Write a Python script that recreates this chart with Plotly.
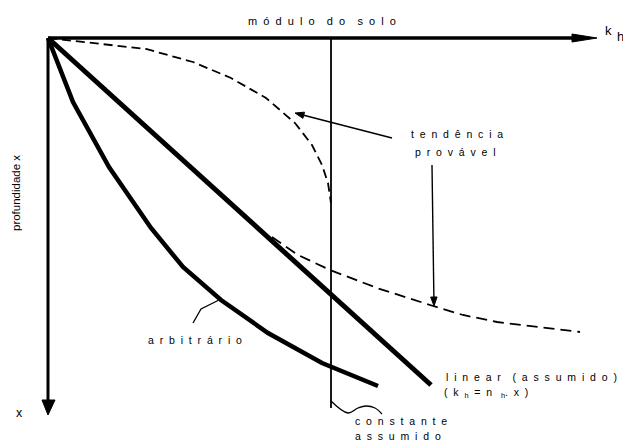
import math
import plotly.graph_objects as go

# ---- data (diagram coordinates, in drawing units: x to the right, depth downwards) ----
kh_axis_x = [48, 574]
kh_axis_y = [38, 38]
kh_head_x = [572, 597, 572, 572]
kh_head_y = [34, 38, 42, 34]
depth_axis_x = [48, 48]
depth_axis_y = [38, 402]
depth_head_x = [42, 48, 55, 42]
depth_head_y = [400, 415, 400, 400]

constant_x = [331, 331]
constant_y = [38, 408]

linear_x = [48, 431]
linear_y = [38, 385]

arbitrary_x = [48, 73, 109, 151, 183, 221, 268, 322, 378]
arbitrary_y = [38, 102, 167, 228, 267, 300, 333, 363, 386]

trend_upper_x = [48, 146, 193, 231, 266, 295, 312, 322, 328, 331]
trend_upper_y = [38, 49, 62, 78, 98, 123, 145, 165, 183, 203]
trend_lower_x = [272, 298, 330, 377, 430, 463, 497, 530, 580]
trend_lower_y = [237, 255, 270, 288, 305, 315, 322, 326, 332]

arb_pointer_x = [193, 201, 219]
arb_pointer_y = [323, 309, 300]
const_squiggle_x = [331, 348, 358, 366, 375, 382]
const_squiggle_y = [401, 413, 408, 406, 408, 414]

# pointer arrows (tail -> head)
trend_arrow1_x = [392, 295]
trend_arrow1_y = [138, 113]
trend_arrow2_x = [432, 434]
trend_arrow2_y = [165, 306]

labels_spaced = ["módulo do solo", "tendência", "provável", "arbitrário",
                 "linear (assumido)", "constante", "assumido"]

NB = "\u00a0"
OFF = 8  # page body margin of the html page


def spaced(s, gap=2, word_gap=4):
    words = s.split(" ")
    return (NB * word_gap).join((NB * gap).join(list(w)) for w in words)


fig = go.Figure()
black = "black"


def line(x, y, width, dash=None, shape="linear"):
    fig.add_trace(go.Scatter(x=x, y=y, mode="lines",
                             line=dict(color=black, width=width, dash=dash, shape=shape),
                             hoverinfo="skip", showlegend=False))


def poly(x, y):
    fig.add_trace(go.Scatter(x=x, y=y, mode="lines", fill="toself", fillcolor=black,
                             line=dict(color=black, width=1),
                             hoverinfo="skip", showlegend=False))


def arrow(xs, ys, width=1.4, length=9, half=3.2):
    x0, x1 = xs
    y0, y1 = ys
    d = math.hypot(x1 - x0, y1 - y0)
    ux, uy = (x1 - x0) / d, (y1 - y0) / d
    bx, by = x1 - ux * length, y1 - uy * length
    line([x0, bx], [y0, by], width)
    poly([x1, bx - uy * half, bx + uy * half, x1],
         [y1, by + ux * half, by - ux * half, y1])


# axes
line(kh_axis_x, kh_axis_y, 3.5)
poly(kh_head_x, kh_head_y)
line(depth_axis_x, depth_axis_y, 3)
poly(depth_head_x, depth_head_y)

# constant (assumed)
line(constant_x, constant_y, 1.8)
# linear (assumed)
line(linear_x, linear_y, 5)
# arbitrary
line(arbitrary_x, arbitrary_y, 4.5)
# probable trend (dashed)
line(trend_upper_x, trend_upper_y, 1.8, dash="9px,5px")
line(trend_lower_x, trend_lower_y, 1.8, dash="11px,6px")
# pointers
line(arb_pointer_x, arb_pointer_y, 1.3)
line(const_squiggle_x, const_squiggle_y, 1.3, shape="spline")
arrow(trend_arrow1_x, trend_arrow1_y)
arrow(trend_arrow2_x, trend_arrow2_y)

font_family = "Arial, Liberation Sans, sans-serif"
fs = 10.5

ann = []


def text(x, y, s, size=fs, xanchor="left", angle=0):
    ann.append(dict(x=x, y=y, xref="x", yref="y", text=s, showarrow=False,
                    xanchor=xanchor, yanchor="middle", textangle=angle,
                    font=dict(family=font_family, size=size, color=black)))


text(322, 21, spaced(labels_spaced[0]), size=11, xanchor="center")
text(409, 134, spaced(labels_spaced[1]))
text(413, 152, spaced(labels_spaced[2]))
text(146, 340, spaced(labels_spaced[3]))
text(444, 377, spaced(labels_spaced[4]))
text(442, 393, "(" + NB * 2 + "k" + NB * 2 + "<sub>h</sub>" + NB * 2 + "=" + NB * 2 + "n" + NB * 3
     + "<sub>h</sub>." + NB * 2 + "x" + NB * 2 + ")")
text(353, 421, spaced(labels_spaced[5]))
text(353, 436, spaced(labels_spaced[6]))
text(608, 30, "k", size=13, xanchor="center")
text(620, 36, "h", size=13, xanchor="center")
text(19, 413, "x", size=12.5, xanchor="center")
text(16, 193, "profundidade x", size=11.5, xanchor="center", angle=-90)

W, H = 631, 441
fig.update_layout(
    width=W - OFF, height=H - OFF, autosize=False,
    margin=dict(l=0, r=0, t=0, b=0, pad=0),
    paper_bgcolor="white", plot_bgcolor="white",
    xaxis=dict(range=[OFF, W], visible=False, fixedrange=True),
    yaxis=dict(range=[H, OFF], visible=False, fixedrange=True),
    annotations=ann,
    showlegend=False,
)

fig.write_html("out.html", config={"displayModeBar": False})
